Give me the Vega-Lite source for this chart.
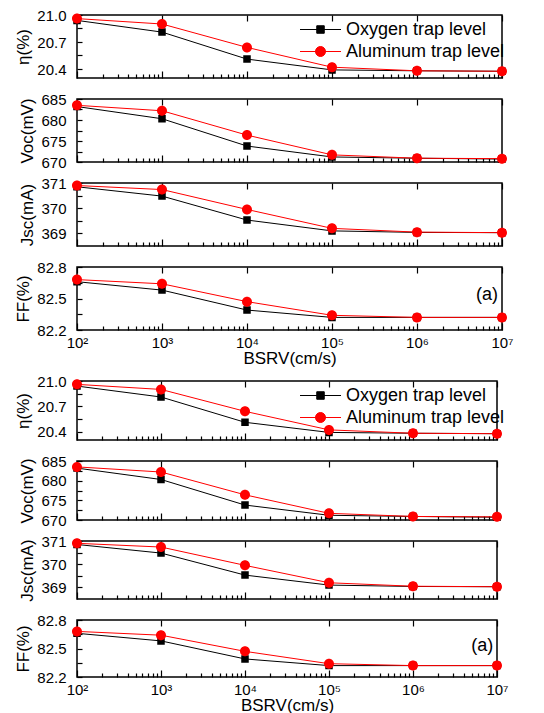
{
  "$schema": "https://vega.github.io/schema/vega-lite/v6.json",
  "padding": {"left": 14, "top": 7, "right": 10, "bottom": 0},
  "background": "white",
  "datasets": {
    "d": [
      {"bsrv": 100, "series": "Oxygen trap level", "eta": 20.94, "voc": 683.2, "jsc": 370.85, "ff": 82.66},
      {"bsrv": 1000, "series": "Oxygen trap level", "eta": 20.81, "voc": 680.3, "jsc": 370.48, "ff": 82.58},
      {"bsrv": 10000, "series": "Oxygen trap level", "eta": 20.51, "voc": 673.8, "jsc": 369.53, "ff": 82.39},
      {"bsrv": 100000, "series": "Oxygen trap level", "eta": 20.39, "voc": 671.2, "jsc": 369.1, "ff": 82.32},
      {"bsrv": 1000000, "series": "Oxygen trap level", "eta": 20.38, "voc": 670.9, "jsc": 369.04, "ff": 82.32},
      {"bsrv": 10000000, "series": "Oxygen trap level", "eta": 20.375, "voc": 670.7, "jsc": 369.03, "ff": 82.32},
      {"bsrv": 100, "series": "Aluminum trap level", "eta": 20.96, "voc": 683.5, "jsc": 370.9, "ff": 82.68},
      {"bsrv": 1000, "series": "Aluminum trap level", "eta": 20.9, "voc": 682.2, "jsc": 370.74, "ff": 82.64},
      {"bsrv": 10000, "series": "Aluminum trap level", "eta": 20.64, "voc": 676.4, "jsc": 369.95, "ff": 82.47},
      {"bsrv": 100000, "series": "Aluminum trap level", "eta": 20.42, "voc": 671.7, "jsc": 369.2, "ff": 82.34},
      {"bsrv": 1000000, "series": "Aluminum trap level", "eta": 20.38, "voc": 670.9, "jsc": 369.05, "ff": 82.32},
      {"bsrv": 10000000, "series": "Aluminum trap level", "eta": 20.375, "voc": 670.8, "jsc": 369.03, "ff": 82.32}
    ],
    "label": [{"tag": "(a)"}]
  },
  "spacing": 6,
  "resolve": {"scale": {"fill": "independent", "stroke": "independent", "shape": "independent"}, "legend": {"fill": "independent", "stroke": "independent", "shape": "independent"}},
  "vconcat": [
    {
      "bounds": "flush",
      "spacing": 21,
      "resolve": {"scale": {"fill": "independent", "stroke": "independent", "shape": "independent"}, "legend": {"fill": "independent", "stroke": "independent", "shape": "independent"}},
      "vconcat": [
        {
          "width": 425, "height": 63,
          "data": {"name": "d"},
          "layer": [
            {"mark": {"type": "line", "strokeWidth": 1},
             "encoding": {
               "x": {"field": "bsrv", "type": "quantitative", "scale": {"type": "log", "domain": [100, 10000000]},
                     "axis": {"orient": "bottom", "values": [100,200,300,400,500,600,700,800,900,1000,2000,3000,4000,5000,6000,7000,8000,9000,10000,20000,30000,40000,50000,60000,70000,80000,90000,100000,200000,300000,400000,500000,600000,700000,800000,900000,1000000,2000000,3000000,4000000,5000000,6000000,7000000,8000000,9000000,10000000], "labels": false, "title": null,
                              "tickSize": {"condition": {"test": "indexof([100,1000,10000,100000,1000000,10000000], datum.value) >= 0", "value": -7}, "value": -4}}},
               "y": {"field": "eta", "type": "quantitative", "scale": {"domain": [20.3, 21.0], "zero": false, "nice": false},
                     "axis": {"orient": "left", "values": [20.4, 20.55, 20.7, 20.85, 21.0], "labelExpr": "indexof([20.4,20.7,21], datum.value) >= 0 ? format(datum.value, '.1f') : ''", "tickSize": -5, "labelPadding": 16, "title": "η(%)", "titlePadding": 4}},
               "stroke": {"field": "series", "type": "nominal", "scale": {"domain": ["Oxygen trap level", "Aluminum trap level"], "range": ["#000000", "#ff0000"]}}
             }},
            {"mark": {"type": "point", "filled": true, "opacity": 1, "size": 400},
             "encoding": {
               "x": {"field": "bsrv", "type": "quantitative", "scale": {"type": "log", "domain": [100, 10000000]},
                     "axis": {"orient": "top", "values": [100,1000,10000,100000,1000000,10000000], "labels": false, "title": null, "tickSize": -6}},
               "y": {"field": "eta", "type": "quantitative", "scale": {"domain": [20.3, 21.0], "zero": false, "nice": false}, "axis": null},
               "fill": {"field": "series", "type": "nominal", "scale": {"domain": ["Oxygen trap level", "Aluminum trap level"], "range": ["#000000", "#ff0000"]},
                        "legend": {"orient": "none", "legendX": 233, "legendY": 4, "title": null, "labelFontSize": 18, "labelColor": "black", "labelLimit": 400, "padding": 0, "symbolSize": 400, "symbolStrokeWidth": 1, "symbolStrokeColor": "black", "symbolFillColor": "black", "symbolOpacity": 1, "labelOffset": 15, "rowPadding": 2}},
               "stroke": {"field": "series", "type": "nominal", "scale": {"domain": ["Oxygen trap level", "Aluminum trap level"], "range": ["#000000", "#ff0000"]},
                        "legend": {"orient": "none", "legendX": 233, "legendY": 4, "title": null, "labelFontSize": 18, "labelColor": "black", "labelLimit": 400, "padding": 0, "symbolSize": 400, "symbolStrokeWidth": 1, "symbolStrokeColor": "black", "symbolFillColor": "black", "symbolOpacity": 1, "labelOffset": 15, "rowPadding": 2}},
               "shape": {"field": "series", "type": "nominal", "scale": {"domain": ["Oxygen trap level", "Aluminum trap level"], "range": ["M-2.05,0H2.05M-0.375,-0.375H0.375V0.375H-0.375Z", "M-2.05,0H2.05M0.5,0A0.5,0.5,0,1,1,-0.5,0A0.5,0.5,0,1,1,0.5,0Z"]},
                        "legend": {"orient": "none", "legendX": 233, "legendY": 4, "title": null, "labelFontSize": 18, "labelColor": "black", "labelLimit": 400, "padding": 0, "symbolSize": 400, "symbolStrokeWidth": 1, "symbolStrokeColor": "black", "symbolFillColor": "black", "symbolOpacity": 1, "labelOffset": 15, "rowPadding": 2}},
               "strokeWidth": {"value": 0}
             }}
          ],
          "resolve": {"axis": {"x": "independent", "y": "independent"}}
        },
        {
          "width": 425, "height": 63,
          "data": {"name": "d"},
          "layer": [
            {"mark": {"type": "line", "strokeWidth": 1},
             "encoding": {
               "x": {"field": "bsrv", "type": "quantitative", "scale": {"type": "log", "domain": [100, 10000000]},
                     "axis": {"orient": "bottom", "values": [100,200,300,400,500,600,700,800,900,1000,2000,3000,4000,5000,6000,7000,8000,9000,10000,20000,30000,40000,50000,60000,70000,80000,90000,100000,200000,300000,400000,500000,600000,700000,800000,900000,1000000,2000000,3000000,4000000,5000000,6000000,7000000,8000000,9000000,10000000], "labels": false, "title": null,
                              "tickSize": {"condition": {"test": "indexof([100,1000,10000,100000,1000000,10000000], datum.value) >= 0", "value": -7}, "value": -4}}},
               "y": {"field": "voc", "type": "quantitative", "scale": {"domain": [670, 685], "zero": false, "nice": false},
                     "axis": {"orient": "left", "values": [670, 672.5, 675, 677.5, 680, 682.5, 685], "labelExpr": "datum.value % 5 == 0 ? datum.value : ''", "tickSize": -5, "labelPadding": 16, "title": "Voc(mV)", "titlePadding": 4}},
               "stroke": {"field": "series", "type": "nominal", "scale": {"domain": ["Oxygen trap level", "Aluminum trap level"], "range": ["#000000", "#ff0000"]}, "legend": null}
             }},
            {"mark": {"type": "point", "filled": true, "opacity": 1, "size": 400},
             "encoding": {
               "x": {"field": "bsrv", "type": "quantitative", "scale": {"type": "log", "domain": [100, 10000000]},
                     "axis": {"orient": "top", "values": [100,1000,10000,100000,1000000,10000000], "labels": false, "title": null, "tickSize": -6}},
               "y": {"field": "voc", "type": "quantitative", "scale": {"domain": [670, 685], "zero": false, "nice": false}, "axis": null},
               "fill": {"field": "series", "type": "nominal", "scale": {"domain": ["Oxygen trap level", "Aluminum trap level"], "range": ["#000000", "#ff0000"]}, "legend": null},
               "shape": {"field": "series", "type": "nominal", "scale": {"domain": ["Oxygen trap level", "Aluminum trap level"], "range": ["M-2.05,0H2.05M-0.375,-0.375H0.375V0.375H-0.375Z", "M-2.05,0H2.05M0.5,0A0.5,0.5,0,1,1,-0.5,0A0.5,0.5,0,1,1,0.5,0Z"]}, "legend": null},
               "strokeWidth": {"value": 0}
             }}
          ],
          "resolve": {"axis": {"x": "independent", "y": "independent"}}
        },
        {
          "width": 425, "height": 63,
          "data": {"name": "d"},
          "layer": [
            {"mark": {"type": "line", "strokeWidth": 1},
             "encoding": {
               "x": {"field": "bsrv", "type": "quantitative", "scale": {"type": "log", "domain": [100, 10000000]},
                     "axis": {"orient": "bottom", "values": [100,200,300,400,500,600,700,800,900,1000,2000,3000,4000,5000,6000,7000,8000,9000,10000,20000,30000,40000,50000,60000,70000,80000,90000,100000,200000,300000,400000,500000,600000,700000,800000,900000,1000000,2000000,3000000,4000000,5000000,6000000,7000000,8000000,9000000,10000000], "labels": false, "title": null,
                              "tickSize": {"condition": {"test": "indexof([100,1000,10000,100000,1000000,10000000], datum.value) >= 0", "value": -7}, "value": -4}}},
               "y": {"field": "jsc", "type": "quantitative", "scale": {"domain": [368.5, 371], "zero": false, "nice": false},
                     "axis": {"orient": "left", "values": [369, 369.5, 370, 370.5, 371], "labelExpr": "datum.value % 1 == 0 ? datum.value : ''", "tickSize": -5, "labelPadding": 16, "title": "Jsc(mA)", "titlePadding": 4}},
               "stroke": {"field": "series", "type": "nominal", "scale": {"domain": ["Oxygen trap level", "Aluminum trap level"], "range": ["#000000", "#ff0000"]}, "legend": null}
             }},
            {"mark": {"type": "point", "filled": true, "opacity": 1, "size": 400},
             "encoding": {
               "x": {"field": "bsrv", "type": "quantitative", "scale": {"type": "log", "domain": [100, 10000000]},
                     "axis": {"orient": "top", "values": [100,1000,10000,100000,1000000,10000000], "labels": false, "title": null, "tickSize": -6}},
               "y": {"field": "jsc", "type": "quantitative", "scale": {"domain": [368.5, 371], "zero": false, "nice": false}, "axis": null},
               "fill": {"field": "series", "type": "nominal", "scale": {"domain": ["Oxygen trap level", "Aluminum trap level"], "range": ["#000000", "#ff0000"]}, "legend": null},
               "shape": {"field": "series", "type": "nominal", "scale": {"domain": ["Oxygen trap level", "Aluminum trap level"], "range": ["M-2.05,0H2.05M-0.375,-0.375H0.375V0.375H-0.375Z", "M-2.05,0H2.05M0.5,0A0.5,0.5,0,1,1,-0.5,0A0.5,0.5,0,1,1,0.5,0Z"]}, "legend": null},
               "strokeWidth": {"value": 0}
             }}
          ],
          "resolve": {"axis": {"x": "independent", "y": "independent"}}
        },
        {
          "width": 425, "height": 63,
          "data": {"name": "d"},
          "layer": [
            {"mark": {"type": "line", "strokeWidth": 1},
             "encoding": {
               "x": {"field": "bsrv", "type": "quantitative", "scale": {"type": "log", "domain": [100, 10000000]},
                     "axis": {"orient": "bottom", "values": [100,200,300,400,500,600,700,800,900,1000,2000,3000,4000,5000,6000,7000,8000,9000,10000,20000,30000,40000,50000,60000,70000,80000,90000,100000,200000,300000,400000,500000,600000,700000,800000,900000,1000000,2000000,3000000,4000000,5000000,6000000,7000000,8000000,9000000,10000000],
                              "labelExpr": "datum.value==100?'10²':datum.value==1000?'10³':datum.value==10000?'10⁴':datum.value==100000?'10⁵':datum.value==1000000?'10⁶':datum.value==10000000?'10⁷':''",
                              "labelPadding": 12, "title": "BSRV(cm/s)", "titlePadding": -3,
                              "tickSize": {"condition": {"test": "indexof([100,1000,10000,100000,1000000,10000000], datum.value) >= 0", "value": -7}, "value": -4}}},
               "y": {"field": "ff", "type": "quantitative", "scale": {"domain": [82.2, 82.8], "zero": false, "nice": false},
                     "axis": {"orient": "left", "values": [82.2, 82.35, 82.5, 82.65, 82.8], "labelExpr": "indexof([82.2,82.5,82.8], datum.value) >= 0 ? format(datum.value, '.1f') : ''", "tickSize": -5, "labelPadding": 16, "title": "FF(%)", "titlePadding": 4}},
               "stroke": {"field": "series", "type": "nominal", "scale": {"domain": ["Oxygen trap level", "Aluminum trap level"], "range": ["#000000", "#ff0000"]}, "legend": null}
             }},
            {"mark": {"type": "point", "filled": true, "opacity": 1, "size": 400},
             "encoding": {
               "x": {"field": "bsrv", "type": "quantitative", "scale": {"type": "log", "domain": [100, 10000000]},
                     "axis": {"orient": "top", "values": [100,1000,10000,100000,1000000,10000000], "labels": false, "title": null, "tickSize": -6}},
               "y": {"field": "ff", "type": "quantitative", "scale": {"domain": [82.2, 82.8], "zero": false, "nice": false}, "axis": null},
               "fill": {"field": "series", "type": "nominal", "scale": {"domain": ["Oxygen trap level", "Aluminum trap level"], "range": ["#000000", "#ff0000"]}, "legend": null},
               "shape": {"field": "series", "type": "nominal", "scale": {"domain": ["Oxygen trap level", "Aluminum trap level"], "range": ["M-2.05,0H2.05M-0.375,-0.375H0.375V0.375H-0.375Z", "M-2.05,0H2.05M0.5,0A0.5,0.5,0,1,1,-0.5,0A0.5,0.5,0,1,1,0.5,0Z"]}, "legend": null},
               "strokeWidth": {"value": 0}
             }},
            {"data": {"name": "label"},
             "mark": {"type": "text", "fontSize": 18, "fontWeight": "normal", "align": "right", "baseline": "middle", "color": "black"},
             "encoding": {
               "x": {"datum": 9000000, "type": "quantitative", "axis": null},
               "y": {"datum": 82.53, "type": "quantitative", "axis": null},
               "text": {"field": "tag"}
             }}
          ],
          "resolve": {"axis": {"x": "independent", "y": "independent"}}
        }
      ]
    },
    {
      "bounds": "flush",
      "spacing": 21,
      "resolve": {"scale": {"fill": "independent", "stroke": "independent", "shape": "independent"}, "legend": {"fill": "independent", "stroke": "independent", "shape": "independent"}},
      "vconcat": [
        {
          "width": 420, "height": 59,
          "data": {"name": "d"},
          "layer": [
            {"mark": {"type": "line", "strokeWidth": 1},
             "encoding": {
               "x": {"field": "bsrv", "type": "quantitative", "scale": {"type": "log", "domain": [100, 10000000]},
                     "axis": {"orient": "bottom", "values": [100,200,300,400,500,600,700,800,900,1000,2000,3000,4000,5000,6000,7000,8000,9000,10000,20000,30000,40000,50000,60000,70000,80000,90000,100000,200000,300000,400000,500000,600000,700000,800000,900000,1000000,2000000,3000000,4000000,5000000,6000000,7000000,8000000,9000000,10000000], "labels": false, "title": null,
                              "tickSize": {"condition": {"test": "indexof([100,1000,10000,100000,1000000,10000000], datum.value) >= 0", "value": -7}, "value": -4}}},
               "y": {"field": "eta", "type": "quantitative", "scale": {"domain": [20.3, 21.0], "zero": false, "nice": false},
                     "axis": {"orient": "left", "values": [20.4, 20.55, 20.7, 20.85, 21.0], "labelExpr": "indexof([20.4,20.7,21], datum.value) >= 0 ? format(datum.value, '.1f') : ''", "tickSize": -5, "labelPadding": 16, "title": "η(%)", "titlePadding": 4}},
               "stroke": {"field": "series", "type": "nominal", "scale": {"domain": ["Oxygen trap level", "Aluminum trap level"], "range": ["#000000", "#ff0000"]}}
             }},
            {"mark": {"type": "point", "filled": true, "opacity": 1, "size": 400},
             "encoding": {
               "x": {"field": "bsrv", "type": "quantitative", "scale": {"type": "log", "domain": [100, 10000000]},
                     "axis": {"orient": "top", "values": [100,1000,10000,100000,1000000,10000000], "labels": false, "title": null, "tickSize": -6}},
               "y": {"field": "eta", "type": "quantitative", "scale": {"domain": [20.3, 21.0], "zero": false, "nice": false}, "axis": null},
               "fill": {"field": "series", "type": "nominal", "scale": {"domain": ["Oxygen trap level", "Aluminum trap level"], "range": ["#000000", "#ff0000"]},
                        "legend": {"orient": "none", "legendX": 233, "legendY": 4, "title": null, "labelFontSize": 18, "labelColor": "black", "labelLimit": 400, "padding": 0, "symbolSize": 400, "symbolStrokeWidth": 1, "symbolStrokeColor": "black", "symbolFillColor": "black", "symbolOpacity": 1, "labelOffset": 15, "rowPadding": 2}},
               "stroke": {"field": "series", "type": "nominal", "scale": {"domain": ["Oxygen trap level", "Aluminum trap level"], "range": ["#000000", "#ff0000"]},
                        "legend": {"orient": "none", "legendX": 233, "legendY": 4, "title": null, "labelFontSize": 18, "labelColor": "black", "labelLimit": 400, "padding": 0, "symbolSize": 400, "symbolStrokeWidth": 1, "symbolStrokeColor": "black", "symbolFillColor": "black", "symbolOpacity": 1, "labelOffset": 15, "rowPadding": 2}},
               "shape": {"field": "series", "type": "nominal", "scale": {"domain": ["Oxygen trap level", "Aluminum trap level"], "range": ["M-2.05,0H2.05M-0.375,-0.375H0.375V0.375H-0.375Z", "M-2.05,0H2.05M0.5,0A0.5,0.5,0,1,1,-0.5,0A0.5,0.5,0,1,1,0.5,0Z"]},
                        "legend": {"orient": "none", "legendX": 233, "legendY": 4, "title": null, "labelFontSize": 18, "labelColor": "black", "labelLimit": 400, "padding": 0, "symbolSize": 400, "symbolStrokeWidth": 1, "symbolStrokeColor": "black", "symbolFillColor": "black", "symbolOpacity": 1, "labelOffset": 15, "rowPadding": 2}},
               "strokeWidth": {"value": 0}
             }}
          ],
          "resolve": {"axis": {"x": "independent", "y": "independent"}}
        },
        {
          "width": 420, "height": 59,
          "data": {"name": "d"},
          "layer": [
            {"mark": {"type": "line", "strokeWidth": 1},
             "encoding": {
               "x": {"field": "bsrv", "type": "quantitative", "scale": {"type": "log", "domain": [100, 10000000]},
                     "axis": {"orient": "bottom", "values": [100,200,300,400,500,600,700,800,900,1000,2000,3000,4000,5000,6000,7000,8000,9000,10000,20000,30000,40000,50000,60000,70000,80000,90000,100000,200000,300000,400000,500000,600000,700000,800000,900000,1000000,2000000,3000000,4000000,5000000,6000000,7000000,8000000,9000000,10000000], "labels": false, "title": null,
                              "tickSize": {"condition": {"test": "indexof([100,1000,10000,100000,1000000,10000000], datum.value) >= 0", "value": -7}, "value": -4}}},
               "y": {"field": "voc", "type": "quantitative", "scale": {"domain": [670, 685], "zero": false, "nice": false},
                     "axis": {"orient": "left", "values": [670, 672.5, 675, 677.5, 680, 682.5, 685], "labelExpr": "datum.value % 5 == 0 ? datum.value : ''", "tickSize": -5, "labelPadding": 16, "title": "Voc(mV)", "titlePadding": 4}},
               "stroke": {"field": "series", "type": "nominal", "scale": {"domain": ["Oxygen trap level", "Aluminum trap level"], "range": ["#000000", "#ff0000"]}, "legend": null}
             }},
            {"mark": {"type": "point", "filled": true, "opacity": 1, "size": 400},
             "encoding": {
               "x": {"field": "bsrv", "type": "quantitative", "scale": {"type": "log", "domain": [100, 10000000]},
                     "axis": {"orient": "top", "values": [100,1000,10000,100000,1000000,10000000], "labels": false, "title": null, "tickSize": -6}},
               "y": {"field": "voc", "type": "quantitative", "scale": {"domain": [670, 685], "zero": false, "nice": false}, "axis": null},
               "fill": {"field": "series", "type": "nominal", "scale": {"domain": ["Oxygen trap level", "Aluminum trap level"], "range": ["#000000", "#ff0000"]}, "legend": null},
               "shape": {"field": "series", "type": "nominal", "scale": {"domain": ["Oxygen trap level", "Aluminum trap level"], "range": ["M-2.05,0H2.05M-0.375,-0.375H0.375V0.375H-0.375Z", "M-2.05,0H2.05M0.5,0A0.5,0.5,0,1,1,-0.5,0A0.5,0.5,0,1,1,0.5,0Z"]}, "legend": null},
               "strokeWidth": {"value": 0}
             }}
          ],
          "resolve": {"axis": {"x": "independent", "y": "independent"}}
        },
        {
          "width": 420, "height": 58,
          "data": {"name": "d"},
          "layer": [
            {"mark": {"type": "line", "strokeWidth": 1},
             "encoding": {
               "x": {"field": "bsrv", "type": "quantitative", "scale": {"type": "log", "domain": [100, 10000000]},
                     "axis": {"orient": "bottom", "values": [100,200,300,400,500,600,700,800,900,1000,2000,3000,4000,5000,6000,7000,8000,9000,10000,20000,30000,40000,50000,60000,70000,80000,90000,100000,200000,300000,400000,500000,600000,700000,800000,900000,1000000,2000000,3000000,4000000,5000000,6000000,7000000,8000000,9000000,10000000], "labels": false, "title": null,
                              "tickSize": {"condition": {"test": "indexof([100,1000,10000,100000,1000000,10000000], datum.value) >= 0", "value": -7}, "value": -4}}},
               "y": {"field": "jsc", "type": "quantitative", "scale": {"domain": [368.5, 371], "zero": false, "nice": false},
                     "axis": {"orient": "left", "values": [369, 369.5, 370, 370.5, 371], "labelExpr": "datum.value % 1 == 0 ? datum.value : ''", "tickSize": -5, "labelPadding": 16, "title": "Jsc(mA)", "titlePadding": 4}},
               "stroke": {"field": "series", "type": "nominal", "scale": {"domain": ["Oxygen trap level", "Aluminum trap level"], "range": ["#000000", "#ff0000"]}, "legend": null}
             }},
            {"mark": {"type": "point", "filled": true, "opacity": 1, "size": 400},
             "encoding": {
               "x": {"field": "bsrv", "type": "quantitative", "scale": {"type": "log", "domain": [100, 10000000]},
                     "axis": {"orient": "top", "values": [100,1000,10000,100000,1000000,10000000], "labels": false, "title": null, "tickSize": -6}},
               "y": {"field": "jsc", "type": "quantitative", "scale": {"domain": [368.5, 371], "zero": false, "nice": false}, "axis": null},
               "fill": {"field": "series", "type": "nominal", "scale": {"domain": ["Oxygen trap level", "Aluminum trap level"], "range": ["#000000", "#ff0000"]}, "legend": null},
               "shape": {"field": "series", "type": "nominal", "scale": {"domain": ["Oxygen trap level", "Aluminum trap level"], "range": ["M-2.05,0H2.05M-0.375,-0.375H0.375V0.375H-0.375Z", "M-2.05,0H2.05M0.5,0A0.5,0.5,0,1,1,-0.5,0A0.5,0.5,0,1,1,0.5,0Z"]}, "legend": null},
               "strokeWidth": {"value": 0}
             }}
          ],
          "resolve": {"axis": {"x": "independent", "y": "independent"}}
        },
        {
          "width": 420, "height": 57,
          "data": {"name": "d"},
          "layer": [
            {"mark": {"type": "line", "strokeWidth": 1},
             "encoding": {
               "x": {"field": "bsrv", "type": "quantitative", "scale": {"type": "log", "domain": [100, 10000000]},
                     "axis": {"orient": "bottom", "values": [100,200,300,400,500,600,700,800,900,1000,2000,3000,4000,5000,6000,7000,8000,9000,10000,20000,30000,40000,50000,60000,70000,80000,90000,100000,200000,300000,400000,500000,600000,700000,800000,900000,1000000,2000000,3000000,4000000,5000000,6000000,7000000,8000000,9000000,10000000],
                              "labelExpr": "datum.value==100?'10²':datum.value==1000?'10³':datum.value==10000?'10⁴':datum.value==100000?'10⁵':datum.value==1000000?'10⁶':datum.value==10000000?'10⁷':''",
                              "labelPadding": 12, "title": "BSRV(cm/s)", "titlePadding": -3,
                              "tickSize": {"condition": {"test": "indexof([100,1000,10000,100000,1000000,10000000], datum.value) >= 0", "value": -7}, "value": -4}}},
               "y": {"field": "ff", "type": "quantitative", "scale": {"domain": [82.2, 82.8], "zero": false, "nice": false},
                     "axis": {"orient": "left", "values": [82.2, 82.35, 82.5, 82.65, 82.8], "labelExpr": "indexof([82.2,82.5,82.8], datum.value) >= 0 ? format(datum.value, '.1f') : ''", "tickSize": -5, "labelPadding": 16, "title": "FF(%)", "titlePadding": 4}},
               "stroke": {"field": "series", "type": "nominal", "scale": {"domain": ["Oxygen trap level", "Aluminum trap level"], "range": ["#000000", "#ff0000"]}, "legend": null}
             }},
            {"mark": {"type": "point", "filled": true, "opacity": 1, "size": 400},
             "encoding": {
               "x": {"field": "bsrv", "type": "quantitative", "scale": {"type": "log", "domain": [100, 10000000]},
                     "axis": {"orient": "top", "values": [100,1000,10000,100000,1000000,10000000], "labels": false, "title": null, "tickSize": -6}},
               "y": {"field": "ff", "type": "quantitative", "scale": {"domain": [82.2, 82.8], "zero": false, "nice": false}, "axis": null},
               "fill": {"field": "series", "type": "nominal", "scale": {"domain": ["Oxygen trap level", "Aluminum trap level"], "range": ["#000000", "#ff0000"]}, "legend": null},
               "shape": {"field": "series", "type": "nominal", "scale": {"domain": ["Oxygen trap level", "Aluminum trap level"], "range": ["M-2.05,0H2.05M-0.375,-0.375H0.375V0.375H-0.375Z", "M-2.05,0H2.05M0.5,0A0.5,0.5,0,1,1,-0.5,0A0.5,0.5,0,1,1,0.5,0Z"]}, "legend": null},
               "strokeWidth": {"value": 0}
             }},
            {"data": {"name": "label"},
             "mark": {"type": "text", "fontSize": 18, "fontWeight": "normal", "align": "right", "baseline": "middle", "color": "black"},
             "encoding": {
               "x": {"datum": 9000000, "type": "quantitative", "axis": null},
               "y": {"datum": 82.53, "type": "quantitative", "axis": null},
               "text": {"field": "tag"}
             }}
          ],
          "resolve": {"axis": {"x": "independent", "y": "independent"}}
        }
      ]
    }
  ],
  "config": {
    "font": "Liberation Sans",
    "view": {"stroke": "black", "strokeWidth": 1.5},
    "axis": {"domain": false, "grid": false, "tickColor": "black", "tickWidth": 1.2, "labelColor": "black", "titleColor": "black",
             "labelFont": "Liberation Sans", "titleFont": "Liberation Sans", "labelFontSize": 15, "titleFontSize": 17, "titleFontWeight": "normal",
             "labelFlush": false, "labelOverlap": false, "labelBound": false},
    "legend": {"labelFont": "Liberation Sans", "labelLimit": 400}
  }
}
